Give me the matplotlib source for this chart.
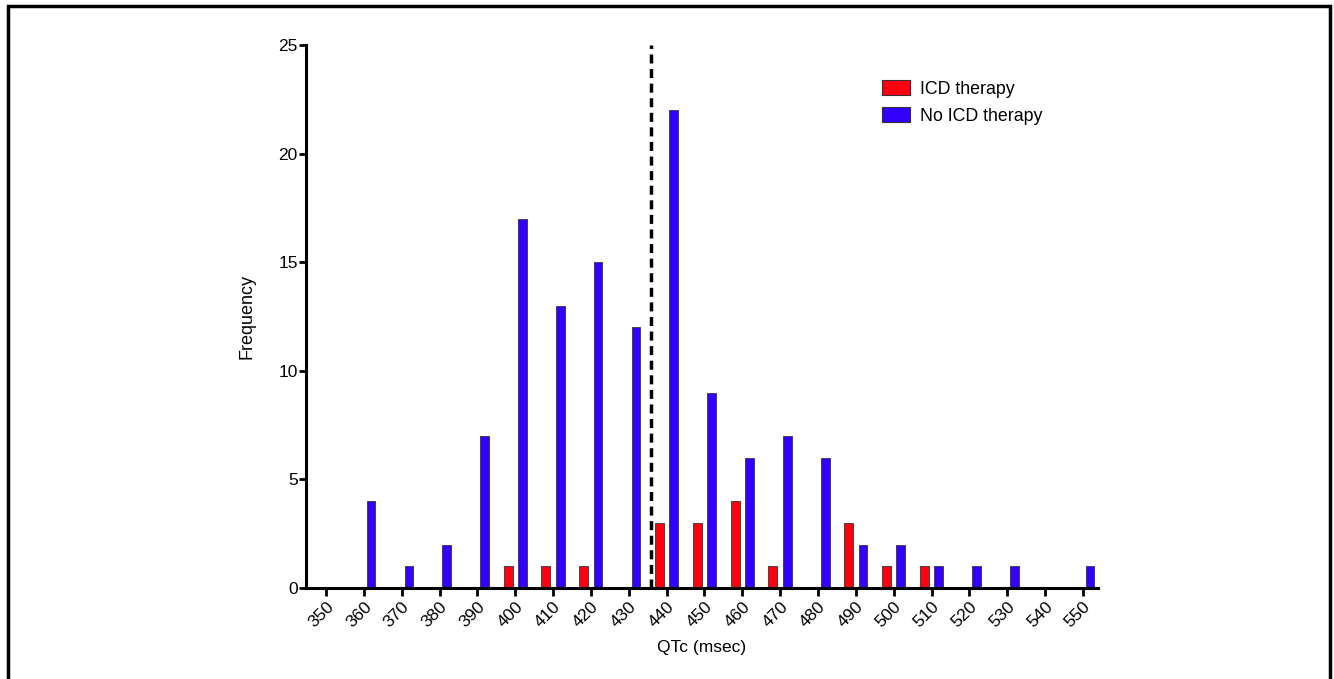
import numpy as np
import matplotlib
matplotlib.use("Agg")
import matplotlib.pyplot as plt
from matplotlib.patches import Rectangle

plt.rcParams['font.family'] = ['Liberation Sans', 'DejaVu Sans']

# QTc bins (msec) and counts per group
qtc = [350, 360, 370, 380, 390, 400, 410, 420, 430, 440, 450,
       460, 470, 480, 490, 500, 510, 520, 530, 540, 550]
icd = [0, 0, 0, 0, 0, 1, 1, 1, 0, 3, 3, 4, 1, 0, 3, 1, 1, 0, 0, 0, 0]
no_icd = [0, 4, 1, 2, 7, 17, 13, 15, 12, 22, 9, 6, 7, 6, 2, 2, 1, 1, 1, 0, 1]
cutoff = 436  # dashed reference line

red = '#ff0010'
blue = '#3300ff'

fig = plt.figure(figsize=(13.34, 6.79), dpi=100)
ax = fig.add_axes([306 / 1334, 1 - 588 / 679, (1098 - 306) / 1334, (588 - 45) / 679])

x = np.arange(len(qtc))
ax.bar(x - 0.19, icd, width=0.24, color=red, edgecolor='#333333', linewidth=0.6,
       label='ICD therapy')
ax.bar(x + 0.19, no_icd, width=0.23, color=blue, edgecolor='#333333', linewidth=0.6,
       label='No ICD therapy')

cut_x = (cutoff - qtc[0]) / (qtc[1] - qtc[0])
ax.plot([cut_x, cut_x], [0, 25], color='black', linewidth=2.5, dashes=(2.6, 1.6),
        clip_on=False, zorder=5)

ax.set_xlim(-0.53, 20.4)
ax.set_ylim(0, 25)
ax.set_xticks(x)
ax.set_xticklabels([str(v) for v in qtc], rotation=45, ha='right',
                   rotation_mode='anchor', fontsize=12.5)
ax.set_yticks([0, 5, 10, 15, 20, 25])
ax.tick_params(axis='y', labelsize=12.5, length=5, width=2, pad=1)
ax.tick_params(axis='x', length=6, width=2, pad=2)

for side in ['top', 'right']:
    ax.spines[side].set_visible(False)
for side in ['left', 'bottom']:
    ax.spines[side].set_linewidth(2.2)

ax.set_xlabel('QTc (msec)', fontsize=12.5, labelpad=7)
ax.set_ylabel('Frequency', fontsize=13, labelpad=16)

leg = ax.legend(loc='upper left', bbox_to_anchor=(875 / 1334, 1 - 73 / 679),
                bbox_transform=fig.transFigure, frameon=False, fontsize=12.8,
                handlelength=1.55, handleheight=0.95, handletextpad=0.6,
                labelspacing=0.5, borderaxespad=0)
for h in leg.legend_handles:
    h.set_edgecolor('#333333')
    h.set_linewidth(0.8)

# outer frame around the figure (bottom edge falls outside the image)
fig.add_artist(Rectangle((8 / 1334, -0.05), 1322 / 1334, 1.05 - 6 / 679,
                         transform=fig.transFigure, fill=False,
                         edgecolor='black', linewidth=2.5))

fig.savefig('out.png', dpi=100)
